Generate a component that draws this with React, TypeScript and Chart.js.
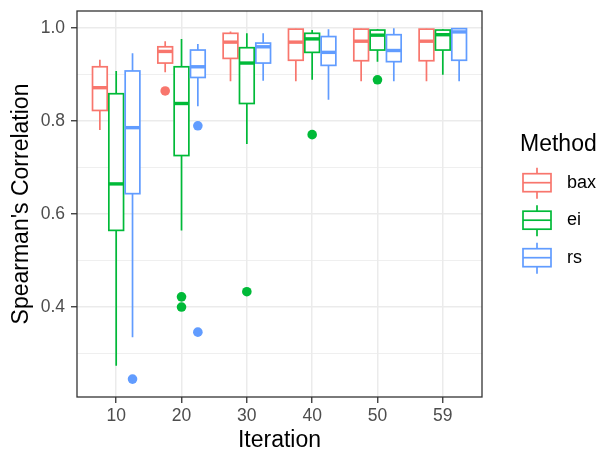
import { useEffect, useRef } from 'react';
import { Chart, registerables } from 'chart.js';

Chart.register(...registerables);

const iterations = ['10', '20', '30', '40', '50', '59'];
const methods = ['bax', 'ei', 'rs'];
const colors = ['#F8766D', '#00BA38', '#619CFF'];

// Box statistics per iteration (lower whisker, Q1, median, Q3, upper whisker)
const baxLow = [0.781, 0.905, 0.886, 0.886, 0.886, 0.886];
const baxQ1 = [0.823, 0.925, 0.935, 0.931, 0.930, 0.930];
const baxMed = [0.872, 0.950, 0.970, 0.970, 0.972, 0.972];
const baxQ3 = [0.917, 0.960, 0.989, 0.998, 0.998, 0.998];
const baxHigh = [0.932, 0.972, 0.993, 0.999, 0.999, 0.999];
const baxOut = [[], [0.865], [], [], [], []];

const eiLow = [0.274, 0.565, 0.751, 0.889, 0.928, 0.900];
const eiQ1 = [0.565, 0.726, 0.838, 0.948, 0.953, 0.953];
const eiMed = [0.665, 0.838, 0.925, 0.977, 0.985, 0.986];
const eiQ3 = [0.859, 0.917, 0.958, 0.989, 0.996, 0.996];
const eiHigh = [0.908, 0.977, 0.989, 0.996, 0.998, 0.998];
const eiOut = [[], [0.422, 0.400], [0.433], [0.771], [0.889], []];

const rsLow = [0.335, 0.832, 0.887, 0.846, 0.886, 0.886];
const rsQ1 = [0.644, 0.894, 0.925, 0.920, 0.928, 0.931];
const rsMed = [0.786, 0.917, 0.960, 0.948, 0.952, 0.992];
const rsQ3 = [0.908, 0.953, 0.968, 0.982, 0.986, 0.999];
const rsHigh = [0.946, 0.966, 0.989, 0.998, 1.0, 1.0];
const rsOut = [[0.245], [0.790, 0.346], [], [], [], []];

const yTicks = [0.3, 0.4, 0.5, 0.6, 0.7, 0.8, 0.9, 1.0];
const yMajor = [0.4, 0.6, 0.8, 1.0];

const stats = [
  { low: baxLow, q1: baxQ1, med: baxMed, q3: baxQ3, high: baxHigh, out: baxOut },
  { low: eiLow, q1: eiQ1, med: eiMed, q3: eiQ3, high: eiHigh, out: eiOut },
  { low: rsLow, q1: rsQ1, med: rsMed, q3: rsQ3, high: rsHigh, out: rsOut },
];

const dodge = [-0.25, 0, 0.25];
const halfBox = 0.1125;
const FONT = "'Liberation Sans', Arial, sans-serif";

const isMajor = (v: number) => yMajor.some((m) => Math.abs(m - v) < 1e-6);

const boxPlugin = {
  id: 'boxes',
  beforeDatasetsDraw(chart: any) {
    const ctx = chart.ctx;
    const xs = chart.scales.x;
    const ys = chart.scales.y;
    ctx.save();
    stats.forEach((s, m) => {
      ctx.strokeStyle = colors[m];
      for (let i = 0; i < iterations.length; i++) {
        const c = i + 1 + dodge[m];
        const xc = xs.getPixelForValue(c);
        const x0 = xs.getPixelForValue(c - halfBox);
        const x1 = xs.getPixelForValue(c + halfBox);
        const yLow = ys.getPixelForValue(s.low[i]);
        const yQ1 = ys.getPixelForValue(s.q1[i]);
        const yMed = ys.getPixelForValue(s.med[i]);
        const yQ3 = ys.getPixelForValue(s.q3[i]);
        const yHigh = ys.getPixelForValue(s.high[i]);
        ctx.lineWidth = 1.7;
        ctx.beginPath();
        ctx.moveTo(xc, yHigh);
        ctx.lineTo(xc, yQ3);
        ctx.moveTo(xc, yQ1);
        ctx.lineTo(xc, yLow);
        ctx.stroke();
        ctx.fillStyle = '#FFFFFF';
        ctx.fillRect(x0, yQ3, x1 - x0, yQ1 - yQ3);
        ctx.strokeRect(x0, yQ3, x1 - x0, yQ1 - yQ3);
        ctx.lineWidth = 3.4;
        ctx.beginPath();
        ctx.moveTo(x0, yMed);
        ctx.lineTo(x1, yMed);
        ctx.stroke();
      }
    });
    ctx.restore();
  },
  afterDraw(chart: any) {
    const ctx = chart.ctx;
    const a = chart.chartArea;
    ctx.save();
    ctx.strokeStyle = '#333333';
    ctx.lineWidth = 1.3;
    ctx.strokeRect(a.left, a.top, a.right - a.left, a.bottom - a.top);

    // legend
    ctx.fillStyle = '#000000';
    ctx.font = `23px ${FONT}`;
    ctx.textAlign = 'left';
    ctx.textBaseline = 'alphabetic';
    ctx.fillText('Method', 520, 151);
    methods.forEach((name, i) => {
      const cy = 182.7 + i * 37.5;
      const kx0 = 523;
      const kx1 = 551;
      const kxc = (kx0 + kx1) / 2;
      ctx.strokeStyle = colors[i];
      ctx.lineWidth = 1.7;
      ctx.beginPath();
      ctx.moveTo(kxc, cy - 15);
      ctx.lineTo(kxc, cy - 9);
      ctx.moveTo(kxc, cy + 9);
      ctx.lineTo(kxc, cy + 16);
      ctx.stroke();
      ctx.fillStyle = '#FFFFFF';
      ctx.fillRect(kx0, cy - 9, kx1 - kx0, 18);
      ctx.strokeRect(kx0, cy - 9, kx1 - kx0, 18);
      ctx.beginPath();
      ctx.moveTo(kx0, cy);
      ctx.lineTo(kx1, cy);
      ctx.stroke();
      ctx.fillStyle = '#000000';
      ctx.font = `18px ${FONT}`;
      ctx.textBaseline = 'middle';
      ctx.fillText(name, 567, cy);
    });
    ctx.restore();
  },
};

export default function App() {
  const ref = useRef<HTMLCanvasElement | null>(null);
  useEffect(() => {
    document.body.style.margin = '0';
    const canvas = ref.current;
    if (!canvas) return;
    const datasets = stats.map((s, m) => ({
      label: methods[m],
      data: s.out.flatMap((vals, i) => vals.map((v) => ({ x: i + 1 + dodge[m], y: v }))),
      backgroundColor: colors[m],
      borderWidth: 0,
      pointRadius: 4.8,
      pointHoverRadius: 4.8,
    }));
    const chart = new Chart(canvas, {
      type: 'scatter',
      data: { datasets },
      plugins: [boxPlugin],
      options: {
        responsive: false,
        animation: false,
        events: [],
        layout: { padding: { left: 0, top: 11, right: 118, bottom: 0 } },
        plugins: { legend: { display: false }, tooltip: { enabled: false } },
        scales: {
          x: {
            type: 'linear',
            min: 0.4,
            max: 6.6,
            afterBuildTicks: (scale: any) => {
              scale.ticks = iterations.map((_, i) => ({ value: i + 1 }));
            },
            afterFit: (scale: any) => {
              scale.height = 54;
              scale.paddingLeft = 0;
              scale.paddingRight = 0;
            },
            border: { display: false },
            grid: {
              color: '#EBEBEB',
              lineWidth: 1.5,
              tickColor: '#333333',
              tickWidth: 1.3,
              tickLength: 6,
            },
            ticks: {
              autoSkip: false,
              maxRotation: 0,
              padding: 3,
              color: '#4D4D4D',
              font: { family: FONT, size: 17.5 },
              callback: (_v: any, idx: number) => iterations[idx],
            },
            title: {
              display: true,
              text: 'Iteration',
              color: '#000000',
              font: { family: FONT, size: 23, lineHeight: 0.9 },
              padding: { top: 0, bottom: 0 },
            },
          },
          y: {
            type: 'linear',
            min: 0.2065,
            max: 1.037,
            afterBuildTicks: (scale: any) => {
              scale.ticks = yTicks.map((v) => ({ value: v }));
            },
            afterFit: (scale: any) => {
              scale.width = 77;
              scale.paddingTop = 0;
              scale.paddingBottom = 0;
            },
            border: { display: false },
            grid: {
              color: '#EBEBEB',
              lineWidth: (c: any) => (isMajor(c.tick?.value) ? 1.5 : 0.8),
              tickColor: (c: any) => (isMajor(c.tick?.value) ? '#333333' : 'rgba(0,0,0,0)'),
              tickWidth: 1.3,
              tickLength: 6,
            },
            ticks: {
              autoSkip: false,
              padding: 6,
              color: '#4D4D4D',
              font: { family: FONT, size: 17.5 },
              callback: (v: any) => (isMajor(Number(v)) ? Number(v).toFixed(1) : ''),
            },
            title: {
              display: true,
              text: "Spearman's Correlation",
              color: '#000000',
              font: { family: FONT, size: 23 },
              padding: { top: 8, bottom: 0 },
            },
          },
        },
      },
    });
    return () => chart.destroy();
  }, []);
  return (
    <div style={{ width: 600, height: 451 }}>
      <canvas ref={ref} width={600} height={451} style={{ display: 'block' }} />
    </div>
  );
}
